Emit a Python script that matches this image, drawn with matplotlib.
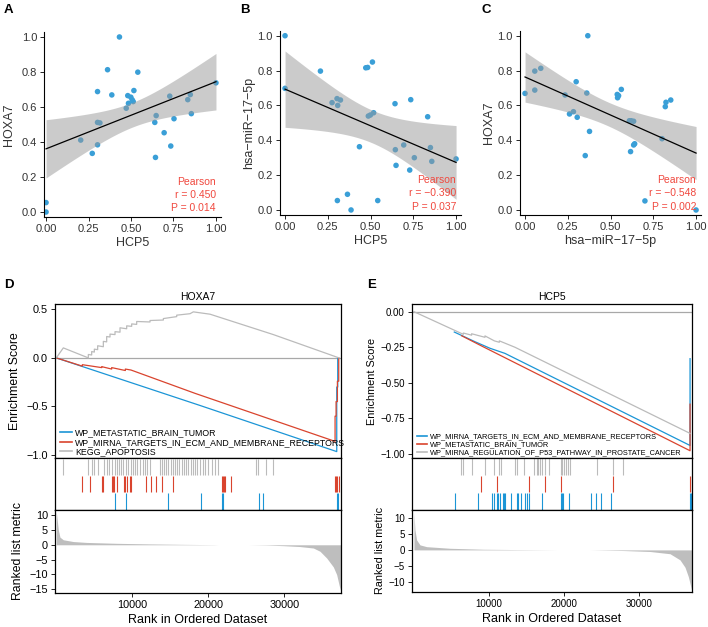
import numpy as np
import matplotlib
matplotlib.use("Agg")
import matplotlib.pyplot as plt

plt.rcParams["font.family"] = ["Liberation Sans", "DejaVu Sans"]
plt.rcParams["axes.unicode_minus"] = True

W, H = 708, 627

# ---------------------------------------------------------------------------
# Scatter data (normalised expression), read off panels A, B, C
# ---------------------------------------------------------------------------
hcp5_a = [0.432, 0.362, 0.540, 0.303, 0.387, 0.517, 0.481, 0.499, 0.507, 0.485,
          0.513, 0.472, 0.728, 0.849, 0.834, 1.000, 0.648, 0.640, 0.753, 0.855,
          0.695, 0.734, 0.644, 0.303, 0.317, 0.303, 0.204, 0.272, 0.000, 0.000]
hoxa7_a = [1.000, 0.813, 0.799, 0.688, 0.669, 0.694, 0.665, 0.656, 0.641, 0.621,
           0.631, 0.593, 0.662, 0.671, 0.642, 0.738, 0.551, 0.512, 0.533, 0.562,
           0.453, 0.377, 0.312, 0.512, 0.509, 0.384, 0.411, 0.335, 0.054, 0.000]

hcp5_b = [0.000, 0.000, 0.207, 0.275, 0.304, 0.308, 0.324, 0.472, 0.483, 0.511,
          0.487, 0.499, 0.518, 0.435, 0.643, 0.735, 0.834, 0.694, 0.645, 0.850,
          0.756, 0.858, 1.000, 0.649, 0.729, 0.306, 0.365, 0.542, 0.386]
mir_b = [1.000, 0.698, 0.797, 0.616, 0.639, 0.600, 0.631, 0.816, 0.818, 0.849,
         0.539, 0.545, 0.558, 0.363, 0.610, 0.633, 0.535, 0.373, 0.346, 0.358,
         0.300, 0.279, 0.293, 0.256, 0.229, 0.054, 0.090, 0.054, 0.000]

mir_c = [0.367, 0.000, 0.057, 0.092, 0.057, 0.299, 0.234, 0.361, 0.260, 0.283,
         0.305, 0.377, 0.352, 0.539, 0.541, 0.547, 0.563, 0.610, 0.621, 0.635,
         0.641, 0.635, 0.617, 0.801, 0.820, 0.824, 0.852, 0.701, 1.000]
hoxa7_c = [1.000, 0.669, 0.797, 0.813, 0.688, 0.736, 0.660, 0.671, 0.551, 0.564,
           0.532, 0.451, 0.312, 0.663, 0.644, 0.656, 0.692, 0.512, 0.512, 0.509,
           0.380, 0.373, 0.335, 0.409, 0.593, 0.618, 0.631, 0.052, 0.000]

pearson_r = ["0.450", "\u22120.390", "\u22120.548"]
pearson_p = ["0.014", "0.037", "0.002"]

# ---------------------------------------------------------------------------
# GSEA data, panel D (HOXA7)
# ---------------------------------------------------------------------------
d_names = ["WP_METASTATIC_BRAIN_TUMOR",
           "WP_MIRNA_TARGETS_IN_ECM_AND_MEMBRANE_RECEPTORS",
           "KEGG_APOPTOSIS"]
d_rank_blue = [0, 18913, 36900, 36900, 37030, 37030]
d_es_blue = [0.0, -0.49, -0.965, -0.30, -0.30, 0.0]
d_rank_red = [0, 3426, 3426, 5971, 5971, 7287, 7287, 9086, 9086, 9831, 18250,
              36680, 36680, 36811, 36811, 36987, 36987, 37162, 37162]
d_es_red = [0.0, -0.085, -0.07, -0.10, -0.09, -0.115, -0.10, -0.13, -0.115, -0.125,
            -0.365, -0.86, -0.60, -0.60, -0.45, -0.45, -0.24, -0.24, 0.0]
d_rank_gray = [0, 925, 4215, 4215, 4655, 4655, 5006, 5006, 5444, 5444, 6190, 6190,
               6629, 6629, 7068, 7068, 7726, 7726, 8384, 8384, 9261, 9261, 9919,
               9919, 10577, 10577, 12332, 12332, 14087, 14087, 15842, 15842,
               17596, 18030, 20230, 28560, 37200]
d_es_gray = [0.0, 0.103, 0.0, 0.035, 0.03, 0.065, 0.06, 0.09, 0.085, 0.125, 0.115,
             0.17, 0.165, 0.22, 0.215, 0.245, 0.24, 0.27, 0.265, 0.31, 0.30, 0.33,
             0.325, 0.35, 0.345, 0.375, 0.37, 0.385, 0.39, 0.405, 0.425, 0.44,
             0.455, 0.474, 0.45, 0.24, 0.0]

d_hits_blue = [7726, 9173, 14745, 19044, 21852, 21940, 26677, 27248, 36899, 37030]
d_hits_red = [3426, 4435, 5971, 6190, 7287, 7419, 7594, 7945, 8910, 9086, 9349,
              9700, 9831, 11806, 12420, 13122, 13955, 15315, 21764, 21896, 22071,
              22203, 22949, 36680, 36811, 36987, 37162]
d_hits_gray = [926, 4216, 4655, 5006, 5444, 6322, 6629, 6980, 7287, 7726, 7945,
               8252, 8515, 8822, 9173, 9480, 9788, 10051, 10358, 10665, 11016,
               11367, 11674, 11981, 12332, 13648, 13911, 14175, 14438, 14745,
               15052, 15315, 15622, 15929, 16192, 16500, 16807, 17070, 17377,
               17684, 17947, 18254, 18561, 18913, 19264, 19571, 20010, 20448,
               20887, 21326, 26284, 26591, 27600, 28477]

d_metric_rank = [0, 50, 265, 480, 920, 2240, 3990, 7940, 12330, 16720, 20670,
                 21300, 25300, 27680, 29870, 32060, 33830, 34700, 35580, 36450,
                 36890, 37240, 37420]
d_metric = [11.0, 10.1, 5.1, 2.6, 1.7, 1.1, 0.8, 0.5, 0.3, 0.15, 0.05, 0.0, 0.0,
            -0.1, -0.3, -0.6, -1.1, -2.2, -4.5, -7.5, -10.1, -14.0, -15.5]

# ---------------------------------------------------------------------------
# GSEA data, panel E (HCP5)
# ---------------------------------------------------------------------------
e_names = ["WP_MIRNA_TARGETS_IN_ECM_AND_MEMBRANE_RECEPTORS",
           "WP_METASTATIC_BRAIN_TUMOR",
           "WP_MIRNA_REGULATION_OF_P53_PATHWAY_IN_PROSTATE_CANCER"]
e_rank_blue = [5378, 8133, 10133, 12133, 36800, 36800]
e_es_blue = [-0.143, -0.211, -0.257, -0.293, -0.94, -0.33]
e_rank_red = [6356, 9022, 36800, 36800]
e_es_red = [-0.169, -0.241, -0.977, -0.65]
e_rank_gray = [0, 6578, 6578, 7689, 7689, 9467, 9467, 10711, 11378, 11378, 13467,
               36800]
e_es_gray = [0.0, -0.159, -0.15, -0.165, -0.155, -0.18, -0.17, -0.205, -0.215,
             -0.205, -0.25, -0.855]

e_hits_blue = [5467, 8489, 10356, 10711, 11022, 11244, 11467, 11822, 11956, 12133,
               12933, 13778, 13911, 14267, 14800, 15022, 15333, 17022, 19556,
               19689, 19822, 20667, 23600, 24222, 24889, 26267, 36800, 36933, 37067]
e_hits_red = [8933, 11022, 15378, 17467, 19556, 26578, 36844, 37022]
e_hits_gray = [6267, 6578, 7689, 9467, 10711, 11378, 11556, 13467, 13689, 14711,
               16044, 16356, 16578, 16800, 17022, 17467, 18044, 19600, 19778,
               20000, 20267, 20578, 20800, 24444, 26578, 27911]

e_metric_rank = [0, 133, 355, 800, 1690, 4800, 9240, 13690, 18130, 19000, 23500,
                 27910, 31470, 34130, 35460, 36130, 36570, 37010, 37100]
e_metric = [11.5, 6.25, 3.1, 1.56, 1.0, 0.5, 0.2, 0.1, 0.02, 0.0, 0.0, -0.2, -0.5,
            -1.2, -3.1, -5.4, -8.3, -12.5, -13.0]

# colours
PT_BLUE = "#3A9FD7"
BLUE = "#1B95D6"
RED = "#D9442E"
GRAY = "#BBBBBB"
TXT = "#333333"


def px_axes(fig, left, top, right, bottom):
    """Axes placed with pixel edges (origin at top-left of the picture)."""
    return fig.add_axes([left / W, 1 - bottom / H, (right - left) / W, (bottom - top) / H])


def scatter_panel(fig, box, x, y, xlabel, ylabel, r_txt, p_txt, xlim, ylim, ylab_x):
    ax = px_axes(fig, *box)
    x = np.asarray(x)
    y = np.asarray(y)
    ax.scatter(x, y, s=16, color=PT_BLUE, edgecolors="none", zorder=2)

    # linear fit + 95% confidence band (as geom_smooth(method = "lm"))
    n = len(x)
    b1, b0 = np.polyfit(x, y, 1)
    xs = np.linspace(x.min(), x.max(), 100)
    yhat = b0 + b1 * xs
    resid = y - (b0 + b1 * x)
    s = np.sqrt(np.sum(resid ** 2) / (n - 2))
    se = s * np.sqrt(1 / n + (xs - x.mean()) ** 2 / np.sum((x - x.mean()) ** 2))
    t = 2.05
    ax.fill_between(xs, yhat - t * se, yhat + t * se, color="#999999", alpha=0.5,
                    lw=0, zorder=3)
    ax.plot(xs, yhat, color="black", lw=0.9, zorder=4)

    ax.set_xlim(*xlim)
    ax.set_ylim(*ylim)
    ax.set_xticks([0, 0.25, 0.5, 0.75, 1.0])
    ax.set_xticklabels(["0.00", "0.25", "0.50", "0.75", "1.00"])
    ax.set_yticks([0, 0.2, 0.4, 0.6, 0.8, 1.0])
    ax.set_yticklabels(["0.0", "0.2", "0.4", "0.6", "0.8", "1.0"])
    for sp in ["top", "right"]:
        ax.spines[sp].set_visible(False)
    for sp in ["left", "bottom"]:
        ax.spines[sp].set_linewidth(0.8)
    ax.tick_params(direction="out", length=3, width=0.6, labelsize=8,
                   labelcolor=TXT, pad=2)
    ax.set_xlabel(xlabel, fontsize=9, color=TXT, va="center")
    ax.set_ylabel(ylabel, fontsize=9, color=TXT, va="center")
    ax.xaxis.set_label_coords(0.5, -0.14)
    ax.yaxis.set_label_coords(ylab_x, 0.5)

    for txt, yy in zip(["Pearson", "r = " + r_txt, "P = " + p_txt], [0.19, 0.119, 0.047]):
        ax.text(0.972, yy, txt, transform=ax.transAxes, ha="right", va="center",
                fontsize=7.5, color="#F0483E", zorder=5)
    return ax


def gsea_panel(fig, xs, ys, xlim, es_lim, es_ticks, es_fmt, met_lim, met_ticks,
               curves, hits, names, metric_rank, metric, title, fs, lab_fs, leg_fs,
               leg_anchor, ylab_x):
    l, r = xs
    t, m1, m2, b = ys
    ax_es = px_axes(fig, l, t, r, m1)
    ax_hit = px_axes(fig, l, m1, r, m2)
    ax_met = px_axes(fig, l, m2, r, b)

    # running enrichment score
    ax_es.axhline(0, color="#A8A8A8", lw=0.9, zorder=1)
    colors = [BLUE, RED, GRAY]
    for (rk, es), c, name in zip(curves, colors, names):
        ax_es.plot(rk, es, color=c, lw=0.9, label=name)
    ax_es.set_xlim(*xlim)
    ax_es.set_ylim(*es_lim)
    ax_es.set_yticks(es_ticks)
    ax_es.set_yticklabels([es_fmt.format(v).replace("-", "\u2212") for v in es_ticks])
    ax_es.set_xticks([])
    ax_es.set_title(title, fontsize=7.5, pad=3)
    ax_es.set_ylabel("Enrichment Score", fontsize=lab_fs, va="center")
    ax_es.yaxis.set_label_coords(ylab_x[0], 0.5)
    leg = ax_es.legend(loc="lower left", bbox_to_anchor=leg_anchor, frameon=False,
                       fontsize=leg_fs, handlelength=1.4, handletextpad=0.35,
                       labelspacing=0.08, borderpad=0, borderaxespad=0)
    for h in leg.get_lines():
        h.set_linewidth(1.2)

    # hit positions, one row per gene set (first set at the bottom)
    for i, (hh, c) in enumerate(zip(hits, colors)):
        ax_hit.vlines(hh, i + 0.02, i + 0.98, color=c, lw=0.8)
    ax_hit.set_xlim(*xlim)
    ax_hit.set_ylim(0, 3)
    ax_hit.set_xticks([])
    ax_hit.set_yticks([])

    # ranked list metric
    ax_met.fill_between(metric_rank, 0, metric, color="#BEBEBE", lw=0)
    ax_met.set_xlim(*xlim)
    ax_met.set_ylim(*met_lim)
    ax_met.set_yticks(met_ticks)
    ax_met.set_xticks([10000, 20000, 30000])
    ax_met.set_ylabel("Ranked list metric", fontsize=lab_fs, va="center")
    ax_met.yaxis.set_label_coords(ylab_x[1], 0.5)
    ax_met.set_xlabel("Rank in Ordered Dataset", fontsize=9, va="center")
    ax_met.xaxis.set_label_coords(0.5, -0.33)

    for ax in (ax_es, ax_hit, ax_met):
        for sp in ax.spines.values():
            sp.set_linewidth(0.9)
        ax.tick_params(direction="out", length=3, width=0.6, labelsize=fs, pad=2)
    return ax_es


fig = plt.figure(figsize=(W / 100, H / 100), dpi=100)

scatter_panel(fig, (44, 31.9, 220.9, 217.1), hcp5_a, hoxa7_a, "HCP5", "HOXA7",
              pearson_r[0], pearson_p[0], (-0.012, 1.029), (-0.029, 1.029), -0.2)
scatter_panel(fig, (279.9, 30.5, 461.2, 215.2), hcp5_b, mir_b, "HCP5",
              "hsa\u2212miR\u221217\u22125p", pearson_r[1], pearson_p[1],
              (-0.03, 1.03), (-0.03, 1.03), -0.167)
scatter_panel(fig, (519.9, 30.5, 701.2, 215.2), mir_c, hoxa7_c,
              "hsa\u2212miR\u221217\u22125p", "HOXA7", pearson_r[2], pearson_p[2],
              (-0.03, 1.03), (-0.03, 1.03), -0.17)

gsea_panel(fig, (55, 340.7), (304, 458.3, 510, 592.7), (-170, 37420),
           (-1.034, 0.555), [0.5, 0.0, -0.5, -1.0], "{:.1f}",
           (-16.25, 11.8), [10, 5, 0, -5, -10, -15],
           [(d_rank_blue, d_es_blue), (d_rank_red, d_es_red), (d_rank_gray, d_es_gray)],
           [d_hits_blue, d_hits_red, d_hits_gray], d_names, d_metric_rank, d_metric,
           "HOXA7", 7.8, 8.8, 6.3, (0.0175, 0.012), (-0.14, -0.13))
gsea_panel(fig, (411.7, 692.3), (304, 458, 510, 591.7), (-300, 37100),
           (-1.028, 0.054), [0.0, -0.25, -0.5, -0.75, -1.0], "{:.2f}",
           (-13.0, 12.4), [10, 5, 0, -5, -10],
           [(e_rank_blue, e_es_blue), (e_rank_red, e_es_red), (e_rank_gray, e_es_gray)],
           [e_hits_blue, e_hits_red, e_hits_gray], e_names, e_metric_rank, e_metric,
           "HCP5", 7.0, 7.8, 5.3, (0.018, 0.012), (-0.143, -0.113))

# panel letters
for letter, (x, y) in zip("ABCDE", [(4, 10), (240, 10), (482, 10), (4, 285), (367, 285)]):
    fig.text(x / W, 1 - y / H, letter, fontsize=9.5, fontweight="bold", va="center")

fig.savefig("out.png", dpi=100)
